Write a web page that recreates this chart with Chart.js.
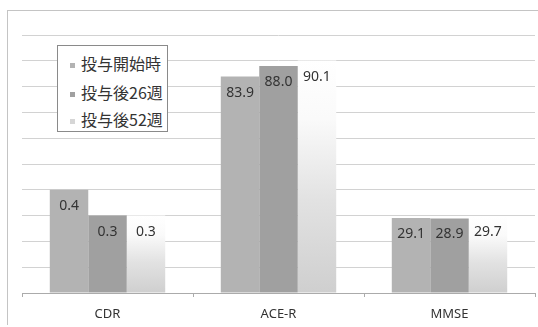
<!DOCTYPE html>
<html>
<head>
<meta charset="utf-8">
<script src="https://cdn.jsdelivr.net/npm/chart.js@4"></script>
<style>
  html, body { margin: 0; padding: 0; background: #fff; }
  #wrap { position: relative; width: 538px; height: 327px; }
  #frame { position: absolute; left: 7px; top: 10px; width: 531px; height: 314px;
           border-left: 1px solid #c4c4c4; border-top: 1px solid #c4c4c4; }
  #legend { position: absolute; left: 57px; top: 45px; width: 109px; height: 85px;
            border: 1px solid #8a8a8a; background: #fff;
            font-family: "Noto Sans CJK JP", sans-serif; font-size: 16px; color: #333; }
  .row { position: absolute; left: 0; height: 20px; line-height: 20px; white-space: nowrap; }
  .row i { display: inline-block; width: 5px; height: 5px; margin: 0 6px 0 12px; vertical-align: middle; }
</style>
</head>
<body>
<div id="wrap">
  <div id="frame"></div>
  <canvas id="chart" width="538" height="327"></canvas>
  <div id="legend"></div>
</div>
<script>
const categories = ['CDR', 'ACE-R', 'MMSE'];
const seriesNames = ['投与開始時', '投与後26週', '投与後52週'];
const baseline = [0.4, 83.9, 29.1];
const week26 = [0.3, 88.0, 28.9];
const week52 = [0.3, 90.1, 29.7];
// CDR is drawn on its own 0-1 range, stretched to the shared 0-100 axis
const plotFactor = [100, 1, 1];
const yTicks = [0, 10, 20, 30, 40, 50, 60, 70, 80, 90, 100];

const colors = ['#b3b3b3', '#a0a0a0', '#d6d6d6'];

function fadeFill(ctx) {
  const chart = ctx.chart;
  if (!chart.chartArea) return colors[2];
  const y = chart.scales.y;
  const top = y.getPixelForValue(ctx.raw);
  const g = chart.ctx.createLinearGradient(0, y.bottom, 0, top);
  g.addColorStop(0, '#cfcfcf');
  g.addColorStop(0.4, '#e2e2e2');
  g.addColorStop(0.75, '#fafafa');
  g.addColorStop(1, '#ffffff');
  return g;
}

const rawSeries = [baseline, week26, week52];
const datasets = rawSeries.map((vals, i) => ({
  label: seriesNames[i],
  data: vals.map((v, j) => v * plotFactor[j]),
  raw: vals,
  backgroundColor: i === 2 ? fadeFill : colors[i],
  borderWidth: 0,
  categoryPercentage: 0.675,
  barPercentage: 1
}));

const valueLabels = {
  id: 'valueLabels',
  afterDatasetsDraw(chart) {
    const c = chart.ctx;
    c.save();
    c.font = '14px "Noto Sans", sans-serif';
    c.fillStyle = '#333';
    c.textAlign = 'center';
    c.textBaseline = 'middle';
    chart.data.datasets.forEach((ds, i) => {
      chart.getDatasetMeta(i).data.forEach((bar, j) => {
        const txt = ds.raw[j].toFixed(1);
        c.fillText(txt, bar.x, bar.y + 16);
      });
    });
    c.restore();
  }
};

new Chart(document.getElementById('chart'), {
  type: 'bar',
  data: { labels: categories, datasets },
  options: {
    responsive: false,
    animation: false,
    layout: { padding: { left: 22, top: 35, right: 3, bottom: 0 } },
    plugins: { legend: { display: false }, tooltip: { enabled: false } },
    scales: {
      x: {
        grid: { display: true, offset: true, drawOnChartArea: false, drawTicks: true, tickLength: 4, color: '#ababab' },
        border: { display: true, color: '#ababab' },
        ticks: { color: '#333', padding: 9, font: { family: '"Noto Sans", sans-serif', size: 13 } },
        afterFit: s => { s.height = 34; }
      },
      y: {
        min: 0,
        max: 100,
        afterBuildTicks: s => { s.ticks = yTicks.map(v => ({ value: v })); },
        ticks: { display: false },
        grid: { color: '#d2d2d2', drawTicks: false },
        border: { display: false },
        afterFit: s => { s.width = 0; }
      }
    }
  },
  plugins: [valueLabels]
});

const legend = document.getElementById('legend');
const rowTops = [7, 36, 63];
seriesNames.forEach((name, i) => {
  const row = document.createElement('div');
  row.className = 'row';
  row.style.top = rowTops[i] + 'px';
  row.innerHTML = '<i style="background:' + colors[i] + '"></i>' + name;
  legend.appendChild(row);
});
</script>
</body>
</html>
